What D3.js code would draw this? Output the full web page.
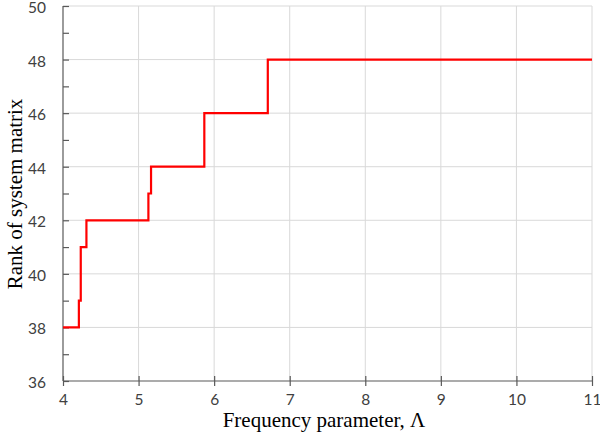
<!DOCTYPE html>
<html>
<head>
<meta charset="utf-8">
<script src="https://cdn.jsdelivr.net/npm/d3@7"></script>
<style>
  html, body { margin: 0; padding: 0; background: #fff; }
  svg { display: block; }
</style>
</head>
<body>
<svg id="chart" width="600" height="433"></svg>
<script>
// Data (step changes of rank vs frequency parameter)
const lambdaValues = [4, 4.21, 4.235, 4.31, 5.13, 5.165, 5.87, 6.71, 11];
const rankValues   = [38, 39, 41, 42, 43, 44, 46, 48, 48];
const xTicks = [4, 5, 6, 7, 8, 9, 10, 11];
const yTicksMajor = [36, 38, 40, 42, 44, 46, 48, 50];
const yTicksMinor = [36, 37, 38, 39, 40, 41, 42, 43, 44, 45, 46, 47, 48, 49, 50];
const xTitle = "Frequency parameter, \u039B";
const yTitle = "Rank of system matrix";

(function () {
const svg = d3.select("#chart");
const mLeft = 63, mRight = 592, mTop = 6, mBottom = 381;

const x = d3.scaleLinear().domain([4, 11]).range([mLeft, mRight]);
const y = d3.scaleLinear().domain([36, 50]).range([mBottom, mTop]);

const axisColor = "#595959";
const gridColor = "#d9d9d9";
const tickFont = "Lato, 'Open Sans', sans-serif";
const titleFont = "'Liberation Serif', 'Times New Roman', serif";

// Gridlines
const grid = svg.append("g");
grid.selectAll("line.v").data(xTicks.filter(d => d > 4)).enter().append("line")
  .attr("class", "v")
  .attr("x1", d => x(d)).attr("x2", d => x(d))
  .attr("y1", mTop).attr("y2", mBottom)
  .attr("stroke", gridColor).attr("stroke-width", 1);
grid.selectAll("line.h").data(yTicksMajor.filter(d => d > 36)).enter().append("line")
  .attr("class", "h")
  .attr("x1", mLeft).attr("x2", mRight)
  .attr("y1", d => y(d)).attr("y2", d => y(d))
  .attr("stroke", gridColor).attr("stroke-width", 1);

// Y axis: line + inward ticks at each integer
const yAxis = d3.axisRight(y).tickValues(yTicksMinor).tickSize(6).tickFormat("");
const gy = svg.append("g").attr("transform", `translate(${mLeft},0)`).call(yAxis);
gy.select(".domain").attr("stroke", axisColor).attr("stroke-width", 1.2).attr("d", `M0,${mTop}V${mBottom}`);
gy.selectAll(".tick line").attr("stroke", axisColor).attr("stroke-width", 1.2);

// Y labels (even values)
const yLab = d3.axisLeft(y).tickValues(yTicksMajor).tickSize(0).tickPadding(17).tickFormat(d3.format("d"));
const gyl = svg.append("g").attr("transform", `translate(${mLeft},0)`).call(yLab);
gyl.select(".domain").remove();
gyl.selectAll("text").attr("font-family", tickFont).attr("font-size", 15.5).attr("fill", "#404040").attr("dy", "0.42em");

// X axis: crossing ticks
const xAxis = d3.axisBottom(x).tickValues(xTicks).tickSize(5).tickPadding(8).tickFormat(d3.format("d"));
const gx = svg.append("g").attr("transform", `translate(0,${mBottom})`).call(xAxis);
gx.select(".domain").attr("stroke", axisColor).attr("stroke-width", 1.2).attr("d", `M${mLeft},0H${mRight}`);
gx.selectAll(".tick line").attr("stroke", axisColor).attr("stroke-width", 1.2).attr("y1", -5);
gx.selectAll("text").attr("font-family", tickFont).attr("font-size", 15.5).attr("fill", "#404040");

// Step line
const line = d3.line().x((d, i) => x(lambdaValues[i])).y((d, i) => y(rankValues[i])).curve(d3.curveStepAfter);
svg.append("path").datum(rankValues)
  .attr("d", line)
  .attr("fill", "none")
  .attr("stroke", "#ff0000")
  .attr("stroke-width", 2.2);

// Titles
svg.append("text")
  .attr("x", 324).attr("y", 427)
  .attr("text-anchor", "middle")
  .attr("font-family", titleFont).attr("font-size", 21).attr("fill", "#000")
  .text(xTitle);
svg.append("text")
  .attr("transform", `translate(22,194) rotate(-90)`)
  .attr("text-anchor", "middle")
  .attr("font-family", titleFont).attr("font-size", 21).attr("fill", "#000")
  .text(yTitle);
})();
</script>
</body>
</html>
